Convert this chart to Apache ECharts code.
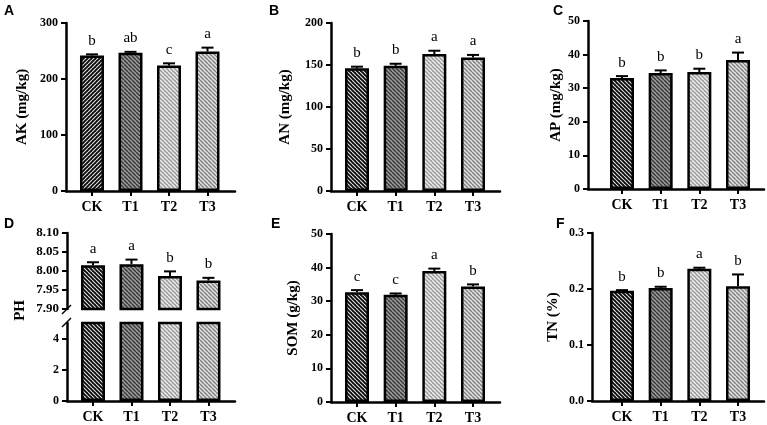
<!DOCTYPE html>
<html>
<head>
<meta charset="utf-8">
<style>
  html, body { margin: 0; padding: 0; background: #fff; }
  #chart { width: 767px; height: 425px; }
</style>
<script src="https://cdn.jsdelivr.net/npm/echarts@6/dist/echarts.min.js"></script>
</head>
<body>
<div id="chart"></div>
<script>
// categories
const cats = ['CK', 'T1', 'T2', 'T3'];
const xPos = [1, 2, 3, 4];

// A: AK (mg/kg)
const akMean = [242, 247, 224, 249];
const akErr = [2, 1.5, 4, 7];
const akSig = ['b', 'ab', 'c', 'a'];
// B: AN (mg/kg)
const anMean = [146, 149, 163, 159];
const anErr = [2, 2.5, 4, 3];
const anSig = ['b', 'b', 'a', 'a'];
// C: AP (mg/kg)
const apMean = [33, 34.5, 34.8, 38.4];
const apErr = [0.6, 0.8, 1, 2.2];
const apSig = ['b', 'b', 'b', 'a'];
// D: PH
const phMean = [8.015, 8.018, 7.987, 7.975];
const phErr = [0.008, 0.012, 0.012, 0.007];
const phSig = ['a', 'a', 'b', 'b'];
// E: SOM (g/kg)
const somMean = [32.7, 31.9, 39.0, 34.4];
const somErr = [0.6, 0.4, 0.7, 0.6];
const somSig = ['c', 'c', 'a', 'b'];
// F: TN (%)
const tnMean = [0.197, 0.202, 0.236, 0.205];
const tnErr = [0.001, 0.002, 0.002, 0.021];
const tnSig = ['b', 'b', 'a', 'b'];

// tick labels
const akTicks = [0, 100, 200, 300];
const anTicks = [0, 50, 100, 150, 200];
const apTicks = [0, 10, 20, 30, 40, 50];
const phTopTicks = [7.90, 7.95, 8.00, 8.05, 8.10];
const phLowTicks = [0, 2, 4];
const somTicks = [0, 10, 20, 30, 40, 50];
const tnTicks = [0, 0.1, 0.2, 0.3];

const SERIF = '"Liberation Serif", "Times New Roman", serif';

// hatch fills
function hatch(bg, fg, dir, lw) {
    const s = 4;
    const c = document.createElement('canvas');
    c.width = s; c.height = s;
    const ctx = c.getContext('2d');
    ctx.fillStyle = bg;
    ctx.fillRect(0, 0, s, s);
    ctx.strokeStyle = fg;
    ctx.lineWidth = lw;
    for (let k = -1; k <= 1; k++) {
        ctx.beginPath();
        if (dir === '/') {
            ctx.moveTo(k * s, s); ctx.lineTo(k * s + s, 0);
        } else {
            ctx.moveTo(k * s, 0); ctx.lineTo(k * s + s, s);
        }
        ctx.stroke();
    }
    return { image: c, repeat: 'repeat' };
}
const fillCK = hatch('#0a0a0a', '#d8d8d8', '\\', 1.2);
const fillCKa = hatch('#0a0a0a', '#d8d8d8', '/', 1.2);
const fills = [fillCK, hatch('#9a9a9a', '#383838', '\\', 1.4), hatch('#9c9c9c', '#eeeeee', '\\', 1.4), hatch('#e0e0e0', '#808080', '\\', 1.4)];

const chart = echarts.init(document.getElementById('chart'), null, { renderer: 'canvas' });

const grids = [];
const xAxes = [];
const yAxes = [];
const series = [];
const texts = [];

function addGrid(g, xr, withLabels) {
    grids.push({ left: g[0], top: g[1], width: g[2], height: g[3], containLabel: false, outerBoundsMode: 'none' });
    const idx = grids.length - 1;
    xAxes.push({
        gridIndex: idx,
        type: 'value',
        min: xr[0],
        max: xr[1],
        show: withLabels,
        axisLine: { show: true, onZero: false, lineStyle: { color: '#000', width: 2.5 } },
        axisTick: { show: true, customValues: xPos, length: 5, lineStyle: { color: '#000', width: 2 } },
        axisLabel: {
            show: true,
            customValues: xPos,
            margin: 9,
            color: '#000',
            fontFamily: SERIF,
            fontWeight: 'bold',
            fontSize: 14,
            formatter: (v) => cats[Math.round(v) - 1] || ''
        },
        splitLine: { show: false }
    });
    return idx;
}

function addY(idx, ticks, min, max, name, nameGap, dec, fs) {
    yAxes.push({
        gridIndex: idx,
        type: 'value',
        min: min,
        max: max,
        name: name,
        nameLocation: 'middle',
        nameGap: nameGap,
        nameTextStyle: { color: '#000', fontFamily: SERIF, fontWeight: 'bold', fontSize: 15 },
        axisLine: { show: true, onZero: false, lineStyle: { color: '#000', width: 2.5 } },
        axisTick: { show: true, customValues: ticks, length: 5, lineStyle: { color: '#000', width: 2 } },
        axisLabel: {
            customValues: ticks,
            margin: 8,
            color: '#000',
            fontFamily: SERIF,
            fontWeight: 'bold',
            fontSize: fs || 12,
            formatter: (v) => v.toFixed(dec)
        },
        splitLine: { show: false }
    });
}

function addBars(idx, mean, allFills) {
    series.push({
        type: 'bar',
        xAxisIndex: idx,
        yAxisIndex: idx,
        barWidth: 24,
        clip: true,
        data: mean.map((v, i) => ({
            value: [xPos[i], v],
            itemStyle: { color: allFills[i], borderColor: '#000', borderWidth: 2.5 }
        })),
        z: 2
    });
}

function addErr(idx, mean, err, sig) {
    series.push({
        type: 'custom',
        xAxisIndex: idx,
        yAxisIndex: idx,
        clip: false,
        z: 3,
        data: mean.map((v, i) => [xPos[i], v, err[i]]),
        renderItem: function (params, api) {
            const x = api.value(0);
            const v = api.value(1);
            const e = api.value(2);
            const base = api.coord([x, v]);
            const top = api.coord([x, v + e]);
            return {
                type: 'group',
                children: [
                    { type: 'line', shape: { x1: base[0], y1: base[1], x2: top[0], y2: top[1] }, style: { stroke: '#000', lineWidth: 2 } },
                    { type: 'line', shape: { x1: top[0] - 6, y1: top[1], x2: top[0] + 6, y2: top[1] }, style: { stroke: '#000', lineWidth: 2 } },
                    { type: 'text', x: top[0], y: top[1] - 6, style: { text: sig[params.dataIndex], textAlign: 'center', textVerticalAlign: 'bottom', font: '15px ' + SERIF, fill: '#000' } }
                ]
            };
        }
    });
}

function panelLetter(t, x, y) {
    texts.push({ type: 'text', left: x, top: y, style: { text: t, font: 'bold 14px "Liberation Sans", Arial, sans-serif', fill: '#000' } });
}

// A
let gi = addGrid([66, 23, 169, 168], [0.325, 4.714], true);
addY(gi, akTicks, 0, 300, 'AK (mg/kg)', 36, 0);
addBars(gi, akMean, [fillCKa, fills[1], fills[2], fills[3]]);
addErr(gi, akMean, akErr, akSig);
panelLetter('A', 4, 4);

// B
gi = addGrid([331, 23, 169, 168], [0.328, 4.698], true);
addY(gi, anTicks, 0, 200, 'AN (mg/kg)', 38, 0);
addBars(gi, anMean, fills);
addErr(gi, anMean, anErr, anSig);
panelLetter('B', 269, 4);

// C
gi = addGrid([588, 21, 176, 168], [0.121, 4.672], true);
addY(gi, apTicks, 0, 50, 'AP (mg/kg)', 22, 0);
addBars(gi, apMean, fills);
addErr(gi, apMean, apErr, apSig);
panelLetter('C', 553, 4);

// D (broken axis: top part)
gi = addGrid([67, 233, 168, 76], [0.325, 4.689], false);
addY(gi, phTopTicks, 7.90, 8.10, '', 0, 2, 13);
addBars(gi, phMean, fills);
addErr(gi, phMean, phErr, phSig);
// D lower part
gi = addGrid([67, 323, 168, 78], [0.325, 4.689], true);
addY(gi, phLowTicks, 0, 5, '', 0, 0);
addBars(gi, phMean, fills);
panelLetter('D', 4, 217);
texts.push({ type: 'text', left: 13, top: 300, rotation: Math.PI / 2, originX: 0, originY: 0,
    style: { text: 'PH', font: 'bold 15px ' + SERIF, fill: '#000' } });
// break marks
texts.push({ type: 'line', shape: { x1: 62, y1: 314, x2: 71, y2: 305 }, style: { stroke: '#000', lineWidth: 1.5 } });
texts.push({ type: 'line', shape: { x1: 62, y1: 327, x2: 71, y2: 318 }, style: { stroke: '#000', lineWidth: 1.5 } });

// E
gi = addGrid([331, 234, 169, 168], [0.328, 4.698], true);
addY(gi, somTicks, 0, 50, 'SOM (g/kg)', 30, 0);
addBars(gi, somMean, fills);
addErr(gi, somMean, somErr, somSig);
panelLetter('E', 271, 217);

// F
gi = addGrid([592, 233, 172, 168], [0.224, 4.672], true);
addY(gi, tnTicks, 0, 0.3, 'TN (%)', 31, 1);
addBars(gi, tnMean, fills);
addErr(gi, tnMean, tnErr, tnSig);
panelLetter('F', 556, 217);

chart.setOption({
    backgroundColor: '#fff',
    animation: false,
    grid: grids,
    xAxis: xAxes,
    yAxis: yAxes,
    series: series,
    graphic: texts
});
</script>
</body>
</html>
